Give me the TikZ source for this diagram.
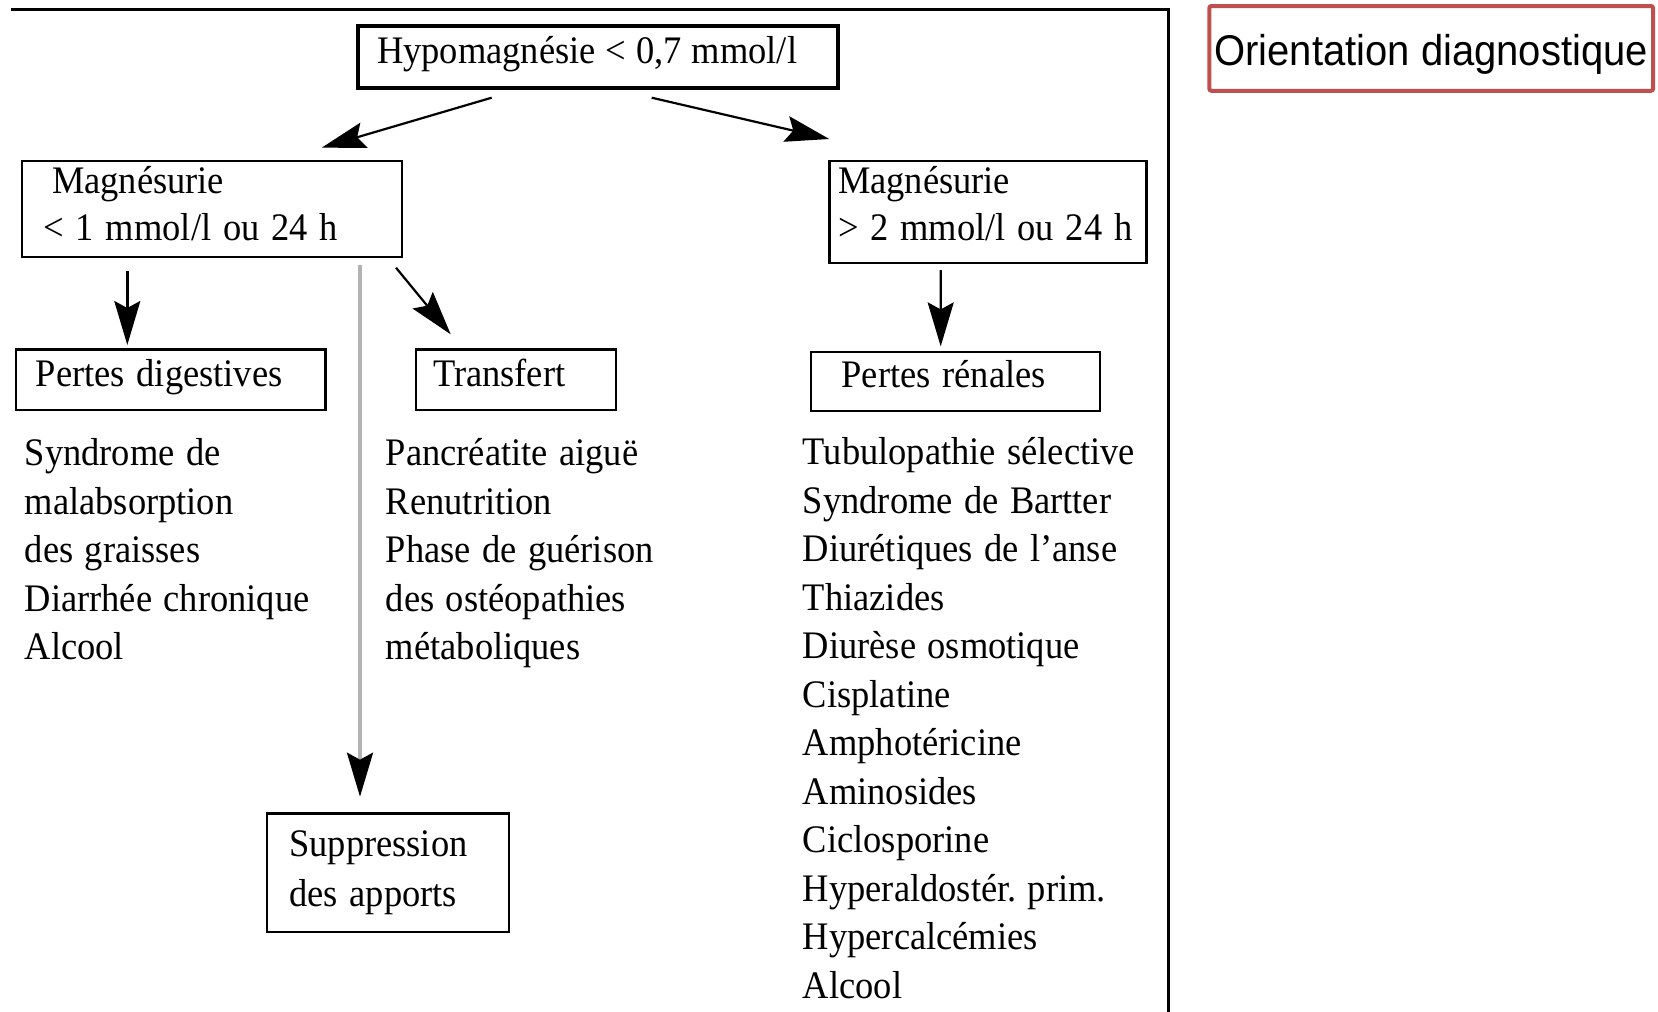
\documentclass[tikz,border=0pt]{standalone}
\usepackage{fontspec}
\setmainfont{Liberation Serif}[FakeStretch=0.935]
\newfontfamily\titlefont{Liberation Sans}[FakeStretch=0.93]
\usetikzlibrary{arrows.meta}
\definecolor{titlered}{HTML}{C0504D}
\newcommand\boxsp{\spaceskip=11.8pt\relax}
\newcommand\hyposp{\spaceskip=10pt\relax}
\newcommand\listsp{\spaceskip=11.4pt\relax}
\begin{document}
\frenchspacing
\begin{tikzpicture}[x=1pt,y=-1pt,
  box/.style={draw, line width=2.5pt, outer sep=0pt, inner ysep=0pt, align=left,
    font=\fontsize{39}{47}\selectfont, execute at begin node=\boxsp},
  one/.style={text height=30pt, text depth=16pt},
  arr/.style={-{Stealth[length=44pt,width=26pt,inset=7pt,color=black,fill=black]}, line width=2.4pt},
  diag/.style={arr, line width=2.2pt},
  listtxt/.style={anchor=base west, inner sep=0pt, align=left, text width=420pt,
    font=\fontsize{39}{48.6}\selectfont, execute at begin node=\listsp},
]
\useasboundingbox (0,0) rectangle (1658,1012);

% frame
\draw[line width=2.7pt] (11,9.3) -- (1168.5,9.3) -- (1168.5,1020);

% title
\node[draw=titlered, line width=4pt, rounded corners=2pt, outer sep=0pt, inner xsep=0pt, inner ysep=0pt,
  minimum width=443.7pt, minimum height=84.7pt, text height=40pt, text depth=6.8pt,
  font=\titlefont\fontsize{43}{50}\selectfont] (title) at (1431.2,48.4) {Orientation diagnostique};

% boxes
\node[box, line width=4.5pt, minimum width=480pt, minimum height=62pt, inner xsep=19pt, text width=442pt,
  text height=30pt, text depth=18pt, execute at begin node=\hyposp] (hypo) at (598,57) {\mbox{Hypomagnésie < 0,7 mmol/l}};

\node[box, minimum width=380pt, minimum height=96pt, inner xsep=21.6pt, text width=336.8pt,
  text height=30pt, text depth=62pt] (magL) at (212,209) {\hspace*{8.4pt}Magnésurie\\\mbox{< 1 mmol/l ou 24 h}};

\node[box, minimum width=317pt, minimum height=102pt, inner xsep=8.4pt, text width=300.2pt,
  text height=30pt, text depth=68pt] (magR) at (988.1,212) {Magnésurie\\\mbox{> 2 mmol/l ou 24 h}};

\node[box, one, minimum width=309.4pt, minimum height=60.5pt, inner xsep=19.8pt, text width=269.8pt]
  (pertesD) at (170.7,379.75) {Pertes digestives};

\node[box, one, minimum width=200pt, minimum height=60.5pt, inner xsep=17pt, text width=166pt]
  (transfert) at (516,379.75) {Transfert};

\node[box, minimum width=289pt, minimum height=59pt, inner xsep=30.7pt, text width=227.6pt,
  text height=30pt, text depth=18.4pt] (pertesR) at (955.5,381.5) {Pertes rénales};

\node[box, minimum width=242pt, minimum height=118.5pt, inner xsep=22.3pt, text width=197.4pt,
  text height=30pt, text depth=62pt, font=\fontsize{39}{50}\selectfont] (supp) at (388,872.75)
  {Suppression\\des apports};

% lists
\node[listtxt] (listL) at (24.6,465.5)
  {Syndrome de\\malabsorption\\des graisses\\Diarrhée chronique\\Alcool};
\node[listtxt] (listM) at (385.7,465.5)
  {Pancréatite aiguë\\Renutrition\\Phase de guérison\\des ostéopathies\\métaboliques};
\node[listtxt, font=\fontsize{39}{48.5}\selectfont] (listR) at (802.7,464.5)
  {Tubulopathie sélective\\Syndrome de Bartter\\Diurétiques de l’anse\\Thiazides\\Diurèse osmotique\\Cisplatine\\Amphotéricine\\Aminosides\\Ciclosporine\\Hyperaldostér. prim.\\Hypercalcémies\\Alcool};

% connectors
\draw[diag] ([shift={(-106.3,9.7)}]hypo.south) -- ([shift={(109.7,-13.3)}]magL.north);
\draw[diag] ([shift={(53.7,9.7)}]hypo.south) -- ([shift={(-158.8,-22)}]magR.north);
\draw[arr] ([shift={(-84.7,14)}]magL.south) -- ([shift={(-43.4,-4.5)}]pertesD.north);
\draw[diag] ([shift={(184,10.7)}]magL.south) -- ([shift={(-65.3,-15.2)}]transfert.north);
\draw[arr, draw=gray!60, line width=3.5pt] ([shift={(148,8)}]magL.south) -- ([shift={(-28,-16.8)}]supp.north);
\draw[arr] ([shift={(-47.4,7)}]magR.south) -- ([shift={(-14.8,-5.6)}]pertesR.north);
\end{tikzpicture}
\end{document}
